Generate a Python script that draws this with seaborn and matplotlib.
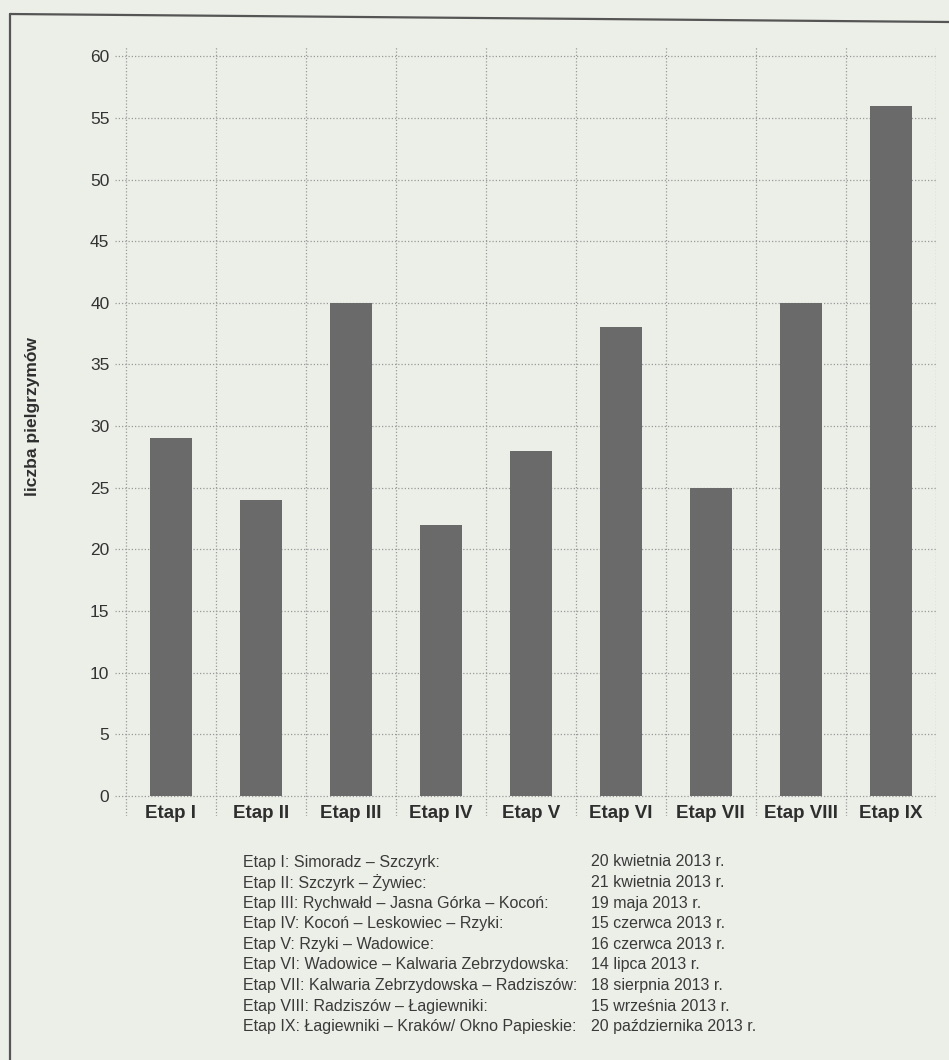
import matplotlib
matplotlib.use("Agg")
import matplotlib.pyplot as plt
import seaborn as sns
import pandas as pd
from matplotlib.lines import Line2D

stages = ["Etap I", "Etap II", "Etap III", "Etap IV", "Etap V",
          "Etap VI", "Etap VII", "Etap VIII", "Etap IX"]
pilgrims = [29, 24, 40, 22, 28, 38, 25, 40, 56]
y_ticks = [0, 5, 10, 15, 20, 25, 30, 35, 40, 45, 50, 55, 60]
routes = [
    "Etap I: Simoradz – Szczyrk:",
    "Etap II: Szczyrk – Żywiec:",
    "Etap III: Rychwałd – Jasna Górka – Kocoń:",
    "Etap IV: Kocoń – Leskowiec – Rzyki:",
    "Etap V: Rzyki – Wadowice:",
    "Etap VI: Wadowice – Kalwaria Zebrzydowska:",
    "Etap VII: Kalwaria Zebrzydowska – Radziszów:",
    "Etap VIII: Radziszów – Łagiewniki:",
    "Etap IX: Łagiewniki – Kraków/ Okno Papieskie:",
]
dates = [
    "20 kwietnia 2013 r.",
    "21 kwietnia 2013 r.",
    "19 maja 2013 r.",
    "15 czerwca 2013 r.",
    "16 czerwca 2013 r.",
    "14 lipca 2013 r.",
    "18 sierpnia 2013 r.",
    "15 września 2013 r.",
    "20 października 2013 r.",
]

df = pd.DataFrame({"etap": stages, "liczba": pilgrims})

sns.set_theme(style="white")
plt.rcParams["font.family"] = ["Liberation Sans", "DejaVu Sans"]

BG = "#ebefe7"
W, H = 949, 1060
fig = plt.figure(figsize=(W / 100, H / 100), dpi=100, facecolor=BG)

# axes geometry in pixels
x_left_px = 115.0
px_per_cat = 90.0
xlim = (-0.62, 8.5)
ppu = 12.33
y0_px = 796.0
ylim = (-1.6, 60.8)
ax_w = (xlim[1] - xlim[0]) * px_per_cat
ax_top = y0_px - ylim[1] * ppu
ax_bot = y0_px - ylim[0] * ppu
ax = fig.add_axes([x_left_px / W, 1 - ax_bot / H, ax_w / W, (ax_bot - ax_top) / H])
ax.set_facecolor(BG)

sns.barplot(data=df, x="etap", y="liczba", order=stages, color="#6a6a6a",
            saturation=1, width=0.46, ax=ax, zorder=3, edgecolor="none")

ax.set_xlim(*xlim)
ax.set_ylim(*ylim)
ax.set_yticks(y_ticks)
ax.set_xticks(range(len(stages)))
ax.set_xticklabels(stages)
ax.set_xticks([i - 0.5 for i in range(len(stages) + 1)], minor=True)

for s in ax.spines.values():
    s.set_visible(False)

grid_kw = dict(color="#9a9a9a", linewidth=0.9, linestyle=(0, (1, 1.6)))
ax.grid(False)
for y in y_ticks:
    ax.axhline(y, xmin=0, xmax=1, zorder=1, **grid_kw)
ax.xaxis.grid(True, which="minor", zorder=1, **grid_kw)

ax.tick_params(axis="y", length=0, pad=4, labelsize=12.5, labelcolor="#333333")
ax.tick_params(axis="x", which="both", length=0, pad=-8)
for lab in ax.get_xticklabels():
    lab.set_fontweight("bold")
    lab.set_fontsize(13.5)
    lab.set_color("#2e2e2e")
    lab.set_verticalalignment("top")

ax.set_xlabel("")
ax.set_ylabel("liczba pielgrzymów", fontsize=12.5, fontweight="bold", color="#2e2e2e")
ax.yaxis.set_label_coords((40 - x_left_px) / ax_w, (ax_bot - 417) / (ax_bot - ax_top))

# legend table below the chart
y_first = 862
step = 20.6
for i, (r, d) in enumerate(zip(routes, dates)):
    yy = 1 - (y_first + i * step) / H
    fig.text(243 / W, yy, r, fontsize=11.5, color="#3a3a3a", va="center", ha="left")
    fig.text(591 / W, yy, d, fontsize=11.5, color="#3a3a3a", va="center", ha="left")

# printed frame (left and top border)
fig.add_artist(Line2D([10 / W, 10 / W], [1 - 14 / H, 0], transform=fig.transFigure,
                      color="#555555", linewidth=1.6))
fig.add_artist(Line2D([10 / W, 1], [1 - 14 / H, 1 - 22 / H], transform=fig.transFigure,
                      color="#555555", linewidth=1.6))

fig.savefig("out.png", dpi=100, facecolor=BG)
